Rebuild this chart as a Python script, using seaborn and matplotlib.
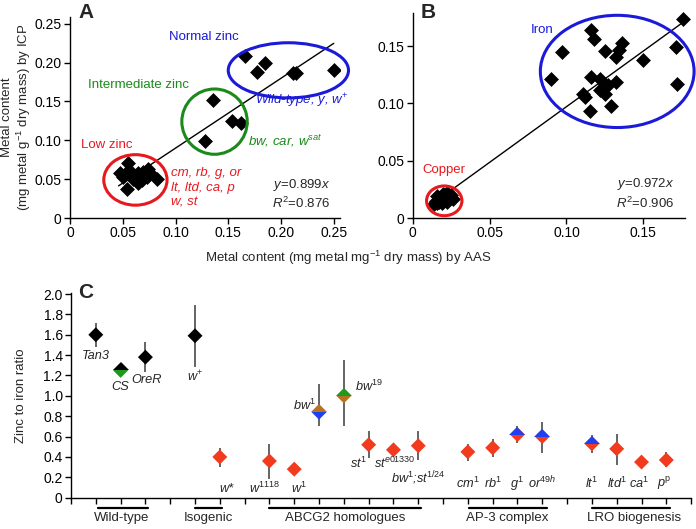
import numpy as np
import pandas as pd
import matplotlib
matplotlib.use("Agg")
import matplotlib.pyplot as plt
import matplotlib.transforms as mtransforms
from matplotlib.patches import Ellipse
import seaborn as sns

# ---------------- data ----------------
# Panel A: zinc, AAS (x) vs ICP (y)
zinc_aas = [0.166, 0.177, 0.185, 0.211, 0.214, 0.250,
            0.136, 0.128, 0.154, 0.162,
            0.0554, 0.0475, 0.0528, 0.0506, 0.0579, 0.0617, 0.0649, 0.0696,
            0.0680, 0.0728, 0.0760, 0.0642, 0.0544, 0.0823, 0.0740, 0.0600]
zinc_icp = [0.209, 0.188, 0.199, 0.187, 0.187, 0.191,
            0.152, 0.099, 0.125, 0.122,
            0.0713, 0.0576, 0.0576, 0.0524, 0.0597, 0.0541, 0.0576, 0.0597,
            0.0490, 0.0524, 0.0584, 0.0455, 0.0370, 0.0499, 0.0630, 0.0500]
zinc_slope = 0.899
zinc_r2 = 0.876

# Panel B: iron and copper
iron_aas = [0.176, 0.116, 0.118, 0.097, 0.125, 0.136, 0.134, 0.132, 0.150, 0.171,
            0.090, 0.116, 0.122, 0.132, 0.127, 0.122, 0.125, 0.111, 0.112, 0.172,
            0.129, 0.115]
iron_icp = [0.174, 0.164, 0.156, 0.145, 0.146, 0.153, 0.147, 0.141, 0.138, 0.149,
            0.121, 0.123, 0.121, 0.119, 0.116, 0.112, 0.108, 0.108, 0.106, 0.117,
            0.098, 0.093]
copper_aas = [0.014, 0.015, 0.016, 0.017, 0.017, 0.018, 0.019, 0.019, 0.020, 0.021,
              0.021, 0.022, 0.023, 0.023, 0.024, 0.025, 0.026, 0.016, 0.020, 0.022]
copper_icp = [0.012, 0.015, 0.013, 0.017, 0.014, 0.016, 0.018, 0.013, 0.015, 0.020,
              0.017, 0.022, 0.016, 0.019, 0.018, 0.020, 0.017, 0.019, 0.021, 0.014]
fe_slope = 0.972
fe_r2 = 0.906

# Panel C: zinc to iron ratio per strain
strains = ["Tan3", "CS", "OreR", "w+", "w*", "w1118", "w1", "bw1", "bw19",
           "st1", "ste01330", "bw1;st1/24", "cm1", "rb1", "g1", "or49h",
           "lt1", "ltd1", "ca1", "pp"]
strain_pos = [1, 2, 3, 5, 6, 8, 9, 10, 11, 12, 13, 14, 16, 17, 18, 19, 21, 22, 23, 24]
ratio = [1.60, 1.25, 1.38, 1.59, 0.40, 0.36, 0.28, 0.84, 1.00,
         0.52, 0.47, 0.51, 0.45, 0.49, 0.62, 0.60, 0.53, 0.48, 0.35, 0.37]
ratio_lo = [1.48, 1.21, 1.23, 1.28, 0.30, 0.18, 0.26, 0.70, 0.70,
            0.39, 0.45, 0.37, 0.36, 0.40, 0.54, 0.44, 0.44, 0.32, 0.30, 0.30]
ratio_hi = [1.72, 1.31, 1.53, 1.89, 0.49, 0.53, 0.30, 1.12, 1.35,
            0.65, 0.49, 0.65, 0.53, 0.58, 0.70, 0.74, 0.62, 0.63, 0.40, 0.45]
top_colour = ["black", "black", "black", "black", "red", "red", "red", "brown", "green",
              "red", "red", "red", "red", "red", "blue", "blue", "blue", "red", "red", "red"]
bottom_colour = ["black", "green", "black", "black", "red", "red", "red", "blue", "brown",
                 "red", "red", "red", "red", "red", "red", "red", "red", "red", "red", "red"]
strain_labels = ["Tan3", "CS", "OreR", "w$^{+}$", "w*", "w$^{1118}$", "w$^{1}$", "bw$^{1}$",
                 "bw$^{19}$", "st$^{1}$", "st$^{e01330}$", "bw$^{1}$;st$^{1/24}$", "cm$^{1}$",
                 "rb$^{1}$", "g$^{1}$", "or$^{49h}$", "lt$^{1}$", "ltd$^{1}$", "ca$^{1}$",
                 "p$^{\\mathrm{p}}$"]
label_x = [1.0, 2.0, 3.05, 5.0, 6.25, 7.8, 9.2, 9.4, 12.0, 11.6, 13.05, 14.0, 16.0,
           17.0, 17.97, 19.0, 21.0, 22.0, 22.9, 23.9]
label_y = [1.39, 1.09, 1.16, 1.19, 0.09, 0.09, 0.09, 0.91, 1.09, 0.34, 0.34, 0.19,
           0.14, 0.14, 0.14, 0.14, 0.14, 0.14, 0.14, 0.14]

groups = ["Wild-type", "Isogenic", "ABCG2 homologues", "AP-3 complex", "LRO biogenesis"]
group_start = [1.1, 5.0, 8.0, 16.05, 21.0]
group_end = [3.1, 6.1, 14.1, 19.2, 24.15]
group_label_x = [2.06, 5.56, 11.05, 17.6, 22.7]

# ---------------- style ----------------
sns.set_theme(style="ticks")
plt.rcParams["font.family"] = ["Liberation Sans", "DejaVu Sans"]
plt.rcParams["mathtext.fontset"] = "custom"
plt.rcParams["mathtext.rm"] = "Liberation Sans"
plt.rcParams["mathtext.it"] = "Liberation Sans:italic"
plt.rcParams["mathtext.bf"] = "Liberation Sans:bold"

palette = {"black": "#000000", "red": "#f23a1e", "blue": "#1f3ff0",
           "green": "#1d9a1d", "brown": "#b8721e"}
ELL_RED = "#e8191e"
ELL_GREEN = "#1a8a1a"
ELL_BLUE = "#1a1ad8"

FS = 9.5
TICK_FS = 10
LAB_FS = 9.2

fig = plt.figure(figsize=(6.96, 5.29), dpi=100)
axA = fig.add_axes([0.1006, 0.5879, 0.388, 0.3805])
axB = fig.add_axes([0.593, 0.5879, 0.391, 0.3875])
axC = fig.add_axes([0.102, 0.0592, 0.891, 0.3869])


def style_axes(ax):
    for s in ["top", "right"]:
        ax.spines[s].set_visible(False)
    for s in ["left", "bottom"]:
        ax.spines[s].set_color("black")
        ax.spines[s].set_linewidth(1.0)
    ax.tick_params(direction="out", length=4, width=1, colors="black",
                   labelsize=TICK_FS, pad=2)


# ---------------- Panel A ----------------
dfA = pd.DataFrame({"aas": zinc_aas, "icp": zinc_icp})
sns.scatterplot(data=dfA, x="aas", y="icp", marker="D", s=50, color="black",
                edgecolor="black", linewidth=0.5, ax=axA, zorder=3)
xs = np.array([0.046, 0.250])
axA.plot(xs, zinc_slope * xs, color="black", lw=1.0, zorder=2)
axA.set_xlim(0, 0.256)
axA.set_ylim(0, 0.259)
axA.set_xticks([0, 0.05, 0.10, 0.15, 0.20, 0.25])
axA.set_xticklabels(["0", "0.05", "0.10", "0.15", "0.20", "0.25"])
axA.set_yticks([0, 0.05, 0.10, 0.15, 0.20, 0.25])
axA.set_yticklabels(["0", "0.05", "0.10", "0.15", "0.20", "0.25"])
axA.set_xlabel("")
axA.set_ylabel("")
style_axes(axA)
for (cx, cy, w, h, col) in [(0.062, 0.049, 0.060, 0.065, ELL_RED),
                            (0.137, 0.124, 0.062, 0.084, ELL_GREEN),
                            (0.207, 0.190, 0.114, 0.071, ELL_BLUE)]:
    axA.add_patch(Ellipse((cx, cy), w, h, fill=False, edgecolor=col, lw=2.2,
                          clip_on=False, zorder=4))
axA.text(0.127, 0.233, "Normal zinc", color=ELL_BLUE, fontsize=FS, ha="center", va="center")
axA.text(0.065, 0.171, "Intermediate zinc", color=ELL_GREEN, fontsize=FS, ha="center", va="center")
axA.text(0.035, 0.094, "Low zinc", color=ELL_RED, fontsize=FS, ha="center", va="center")
axA.text(0.220, 0.150, "Wild-type, y, w$^{+}$", color=ELL_BLUE, fontsize=FS,
         style="italic", ha="center", va="center")
axA.text(0.204, 0.099, "bw, car, w$^{\\mathit{sat}}$", color=ELL_GREEN, fontsize=FS,
         style="italic", ha="center", va="center")
axA.text(0.0956, 0.039, "cm, rb, g, or\nlt, ltd, ca, p\nw, st", color=ELL_RED,
         fontsize=FS, style="italic", ha="left", va="center", linespacing=1.3)
axA.text(0.247, 0.043, "$\\mathit{y}$=%.3f$\\mathit{x}$" % zinc_slope, fontsize=FS,
         ha="right", va="center")
axA.text(0.247, 0.019, "$\\mathit{R}^{2}$=%.3f" % zinc_r2, fontsize=FS,
         ha="right", va="center")
fig.text(17 / 696, 1 - 117 / 529, "Metal content\n(mg metal g$^{-1}$ dry mass) by ICP",
         fontsize=FS, rotation=90, ha="center", va="center", linespacing=1.15,
         multialignment="center")

# ---------------- Panel B ----------------
dfB = pd.DataFrame({"aas": iron_aas + copper_aas, "icp": iron_icp + copper_icp})
sns.scatterplot(data=dfB, x="aas", y="icp", marker="D", s=50, color="black",
                edgecolor="black", linewidth=0.5, ax=axB, zorder=3, clip_on=False)
xs = np.array([0.020, 0.178])
axB.plot(xs, fe_slope * xs, color="black", lw=1.0, zorder=2)
axB.set_xlim(0, 0.177)
axB.set_ylim(0, 0.179)
axB.set_xticks([0, 0.05, 0.10, 0.15])
axB.set_xticklabels(["0", "0.05", "0.10", "0.15"])
axB.set_yticks([0, 0.05, 0.10, 0.15])
axB.set_yticklabels(["0", "0.05", "0.10", "0.15"])
axB.set_xlabel("")
axB.set_ylabel("")
style_axes(axB)
for (cx, cy, w, h, col) in [(0.0205, 0.015, 0.023, 0.026, ELL_RED),
                            (0.133, 0.128, 0.100, 0.098, ELL_BLUE)]:
    axB.add_patch(Ellipse((cx, cy), w, h, fill=False, edgecolor=col, lw=2.2,
                          clip_on=False, zorder=4))
axB.text(0.084, 0.164, "Iron", color=ELL_BLUE, fontsize=FS, ha="center", va="center")
axB.text(0.020, 0.042, "Copper", color=ELL_RED, fontsize=FS, ha="center", va="center")
axB.text(0.170, 0.030, "$\\mathit{y}$=%.3f$\\mathit{x}$" % fe_slope, fontsize=FS,
         ha="right", va="center")
axB.text(0.170, 0.013, "$\\mathit{R}^{2}$=%.3f" % fe_r2, fontsize=FS,
         ha="right", va="center")

fig.text(348 / 696, 1 - 258 / 529, "Metal content (mg metal mg$^{-1}$ dry mass) by AAS",
         fontsize=FS, ha="center", va="center")

# ---------------- Panel C ----------------
dfC = pd.DataFrame({"pos": strain_pos, "ratio": ratio, "lo": ratio_lo, "hi": ratio_hi,
                    "top": top_colour, "bottom": bottom_colour})
axC.errorbar(dfC["pos"], dfC["ratio"],
             yerr=[dfC["ratio"] - dfC["lo"], dfC["hi"] - dfC["ratio"]],
             fmt="none", ecolor="#4a4a4a", elinewidth=1.2, capsize=0, zorder=1)
sns.scatterplot(data=dfC, x="pos", y="ratio", hue="bottom", palette=palette,
                marker="D", s=58, linewidth=0, legend=False, ax=axC, zorder=3)
for p, r, tc, bc in zip(strain_pos, ratio, top_colour, bottom_colour):
    if tc != bc:
        axC.plot([p], [r], marker="D", markersize=7.8, fillstyle="top",
                 markerfacecolor=palette[tc], markerfacecoloralt="none",
                 markeredgewidth=0, linestyle="none", zorder=4)
for lx, ly, lab in zip(label_x, label_y, strain_labels):
    axC.text(lx, ly, lab, fontsize=LAB_FS, style="italic", ha="center", va="center")

axC.set_xlim(0, 25)
axC.set_ylim(0, 2.01)
axC.set_xticks(range(0, 26))
axC.set_xticklabels([])
axC.set_yticks(np.arange(0, 2.01, 0.2))
axC.set_yticklabels(["0"] + ["%.1f" % v for v in np.arange(0.2, 2.01, 0.2)])
axC.set_xlabel("")
axC.set_ylabel("Zinc to iron ratio", fontsize=FS)
axC.yaxis.set_label_coords(-0.071, 0.5)
style_axes(axC)

trans = mtransforms.blended_transform_factory(axC.transData, axC.transAxes)
for g, s0, s1, gx in zip(groups, group_start, group_end, group_label_x):
    axC.plot([s0, s1], [-0.052, -0.052], color="black", lw=1.6, transform=trans,
             clip_on=False)
    axC.text(gx, -0.10, g, fontsize=FS, ha="center", va="center", transform=trans)

# panel letters
fig.text(86 / 696, 1 - 13 / 529, "A", fontsize=15, fontweight="bold", ha="center", va="center")
fig.text(428 / 696, 1 - 13 / 529, "B", fontsize=15, fontweight="bold", ha="center", va="center")
fig.text(86 / 696, 1 - 293 / 529, "C", fontsize=15, fontweight="bold", ha="center", va="center")

fig.savefig("out.png", dpi=100)
